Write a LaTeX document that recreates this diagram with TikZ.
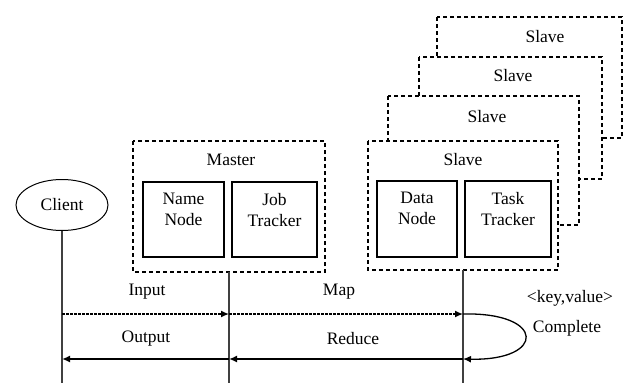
\documentclass[tikz,border=0pt]{standalone}
\usepackage{fontspec}
\setmainfont{Liberation Serif}
\usetikzlibrary{shapes.geometric,arrows.meta}

\tikzset{every picture/.style={line width=1pt}}
\tikzset{
  groupbox/.style={draw, line width=1.6pt, dash pattern=on 4pt off 3pt, fill=white},
  unitbox/.style={draw, line width=1.5pt, fill=white},
  lifeline/.style={draw=black!75, line width=1.2pt},
  callarrow/.style={-{Latex[length=8pt,width=7pt]}, line width=1.4pt, dash pattern=on 3pt off 1pt},
  backarrow/.style={-{Latex[length=8pt,width=7pt]}, line width=2pt},
  lbl/.style={inner sep=0pt, font=\fontsize{17.5}{21}\selectfont, align=center}
}

\begin{document}
\begin{tikzpicture}[x=1pt,y=1pt,yscale=-1,xscale=1]
    \useasboundingbox (0,0) rectangle (624,383); %diagram is 624 wide and 383 high

    %Shape: Rectangle slave stack (back to front)
    \draw [groupbox] (437, 17) rectangle (622,138);
    \node [lbl] (slaveD) at (545, 37) {Slave};
    \draw [groupbox] (419, 57) rectangle (602,179);
    \node [lbl] (slaveC) at (513, 76) {Slave};
    \draw [groupbox] (388, 96) rectangle (579,225);
    \node [lbl] (slaveB) at (487,117) {Slave};
    \draw [groupbox] (368,141) rectangle (558,270);
    \node [lbl] (slaveA) at (463,160) {Slave};

    %Shape: Rectangle master
    \draw [groupbox] (133,141) rectangle (325,272);
    \node [lbl] (master) at (231,160) {Master};

    %Shape: Rectangle units
    \draw [unitbox] (143,182) rectangle (224,257);
    \node [lbl, anchor=north] (namenode) at (183.5,193) {Name\\Node};
    \draw [unitbox] (232,182) rectangle (317,257);
    \node [lbl, anchor=north] (jobtracker) at (274.5,193) {Job\\Tracker};
    \draw [unitbox] (377,181) rectangle (457,257);
    \node [lbl, anchor=north] (datanode) at (417,192) {Data\\Node};
    \draw [unitbox] (465,181) rectangle (551,257);
    \node [lbl, anchor=north] (tasktracker) at (508,192) {Task\\Tracker};

    %Shape: Ellipse client
    \node [draw, ellipse, line width=1pt, minimum width=92pt, minimum height=51pt,
           font=\fontsize{17.5}{21}\selectfont] (client) at (62,205) {Client};

    %Lifelines
    \coordinate (clientBot) at (62,383);
    \coordinate (masterTop) at (229,272);
    \coordinate (masterBot) at (229,383);
    \coordinate (slaveTop)  at (463,270);
    \coordinate (slaveBot)  at (463,383);
    \draw [lifeline] (client.south) -- (clientBot);
    \draw [lifeline] (masterTop) -- (masterBot);
    \draw [lifeline] (slaveTop) -- (slaveBot);

    %Messages
    \coordinate (clientIn)  at (62,314);
    \coordinate (masterIn)  at (229,314);
    \coordinate (slaveIn)   at (463,314);
    \coordinate (clientOut) at (62,359);
    \coordinate (masterOut) at (229,359);
    \coordinate (slaveOut)  at (463,359);
    \draw [callarrow] (clientIn) -- (masterIn);
    \draw [callarrow] (masterIn) -- (slaveIn);
    \draw [backarrow] (masterOut) -- (clientOut);
    \draw [backarrow] (slaveOut) -- (masterOut);
    \draw [-{Latex[length=8pt,width=7pt]}, line width=1.3pt] (slaveIn) .. controls (546,312) and (546,361) .. (slaveOut);

    %Text: message labels
    \node [lbl] (input)    at (147,292) {Input};
    \node [lbl] (map)      at (339,292) {Map};
    \node [lbl] (output)   at (146,339) {Output};
    \node [lbl] (reduce)   at (353,339) {Reduce};
    \node [lbl] (keyvalue) at (570,298) {\textless key,value\textgreater};
    \node [lbl] (complete) at (567,328) {Complete};
\end{tikzpicture}
\end{document}
